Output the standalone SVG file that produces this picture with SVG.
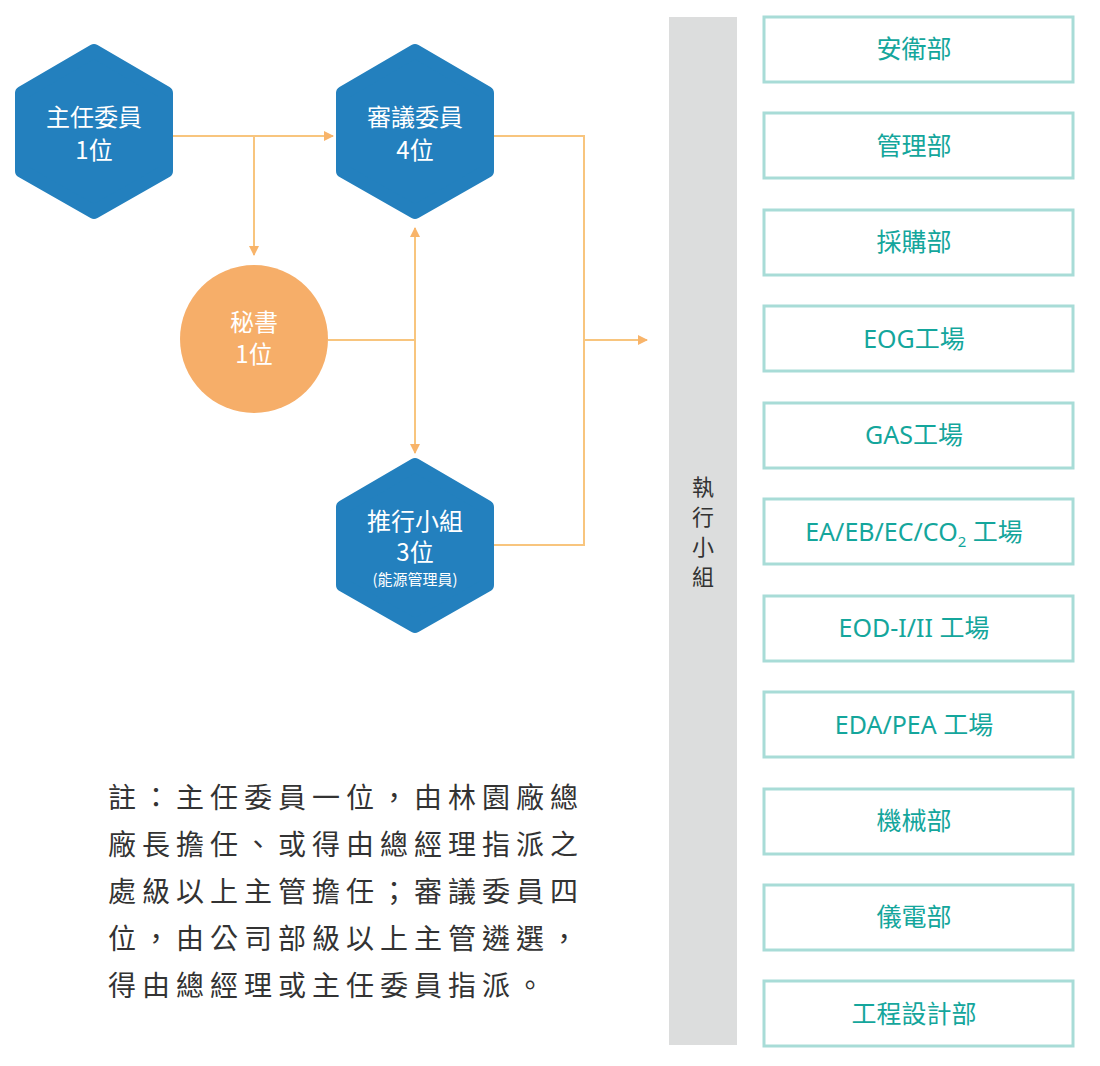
<svg xmlns="http://www.w3.org/2000/svg" width="1100" height="1066" viewBox="0 0 1100 1066">
<style>
.hex{fill:#2380be;stroke:#2380be;stroke-width:14;stroke-linejoin:round}
.wt{fill:#fff;font-family:"Noto Sans CJK TC","Noto Sans",sans-serif;font-size:24px;text-anchor:middle}
.ln{fill:none;stroke:#f8c57e;stroke-width:2}
.box{fill:#fff;stroke:#a8dcd7;stroke-width:3}
.bt{fill:#14a69c;font-family:"Noto Sans","Noto Sans CJK TC",sans-serif;font-size:25px;text-anchor:middle}
.nt{fill:#333;font-family:"Noto Sans CJK TC",sans-serif;font-size:28px;letter-spacing:6px}
.vt{fill:#333;font-family:"Noto Sans CJK TC",sans-serif;font-size:22px;text-anchor:middle}
</style>
<defs><marker id="ar" viewBox="0 0 10 10" refX="9" refY="5" markerWidth="10" markerHeight="10" markerUnits="userSpaceOnUse" orient="auto"><path d="M0,0L10,5L0,10z" fill="#f8b46a"/></marker></defs>
<g id="connectors">
<path class="ln" d="M172,136H333" marker-end="url(#ar)"/>
<path class="ln" d="M254,136V255" marker-end="url(#ar)"/>
<path class="ln" d="M328,340H415"/>
<path class="ln" d="M415,340V228" marker-end="url(#ar)"/>
<path class="ln" d="M415,340V453" marker-end="url(#ar)"/>
<path class="ln" d="M494,136H584V545H494"/>
<path class="ln" d="M584,340H647" marker-end="url(#ar)"/>
</g>
<g id="n1"><polygon class="hex" points="94,51 166,93 166,171 94,212 22,171 22,93"/><text class="wt" x="94" y="126">主任委員</text><text class="wt" x="94" y="159">1位</text></g>
<g id="n2"><polygon class="hex" points="415,51 487,93 487,171 415,212 343,171 343,93"/><text class="wt" x="415" y="126">審議委員</text><text class="wt" x="415" y="159">4位</text></g>
<g id="n3"><circle cx="254" cy="339" r="74" fill="#f6ae69"/><text class="wt" x="254" y="331">秘書</text><text class="wt" x="254" y="363">1位</text></g>
<g id="n4"><polygon class="hex" points="415,465 487,507 487,585 415,626 343,585 343,507"/><text class="wt" x="415" y="530">推行小組</text><text class="wt" x="415" y="561">3位</text><text class="wt" x="415" y="585" style="font-size:15px">(能源管理員)</text></g>
<g id="bar"><rect x="669" y="17" width="68" height="1028" fill="#dcdddd"/>
<text class="vt" x="703" y="495">執</text><text class="vt" x="703" y="525">行</text><text class="vt" x="703" y="555">小</text><text class="vt" x="703" y="585">組</text></g>
<g id="b1"><rect class="box" x="764" y="17" width="309" height="65"/><text class="bt" x="914" y="58">安衛部</text></g>
<g id="b2"><rect class="box" x="764" y="113" width="309" height="65"/><text class="bt" x="914" y="155">管理部</text></g>
<g id="b3"><rect class="box" x="764" y="210" width="309" height="65"/><text class="bt" x="914" y="251">採購部</text></g>
<g id="b4"><rect class="box" x="764" y="306" width="309" height="65"/><text class="bt" x="914" y="348">EOG工場</text></g>
<g id="b5"><rect class="box" x="764" y="403" width="309" height="65"/><text class="bt" x="914" y="444">GAS工場</text></g>
<g id="b6"><rect class="box" x="764" y="499" width="309" height="65"/><text class="bt" x="914" y="541">EA/EB/EC/CO<tspan font-size="15" dy="6">2</tspan><tspan dy="-6"> 工場</tspan></text></g>
<g id="b7"><rect class="box" x="764" y="596" width="309" height="65"/><text class="bt" x="914" y="637">EOD-I/II 工場</text></g>
<g id="b8"><rect class="box" x="764" y="692" width="309" height="65"/><text class="bt" x="914" y="734">EDA/PEA 工場</text></g>
<g id="b9"><rect class="box" x="764" y="789" width="309" height="65"/><text class="bt" x="914" y="830">機械部</text></g>
<g id="b10"><rect class="box" x="764" y="885" width="309" height="65"/><text class="bt" x="914" y="926">儀電部</text></g>
<g id="b11"><rect class="box" x="764" y="981" width="309" height="65"/><text class="bt" x="914" y="1023">工程設計部</text></g>
<g id="note">
<text class="nt" x="108" y="808">註：主任委員一位，由林園廠總</text>
<text class="nt" x="108" y="855">廠長擔任、或得由總經理指派之</text>
<text class="nt" x="108" y="902">處級以上主管擔任；審議委員四</text>
<text class="nt" x="108" y="949">位，由公司部級以上主管遴選，</text>
<text class="nt" x="108" y="996">得由總經理或主任委員指派。</text>
</g>
</svg>
